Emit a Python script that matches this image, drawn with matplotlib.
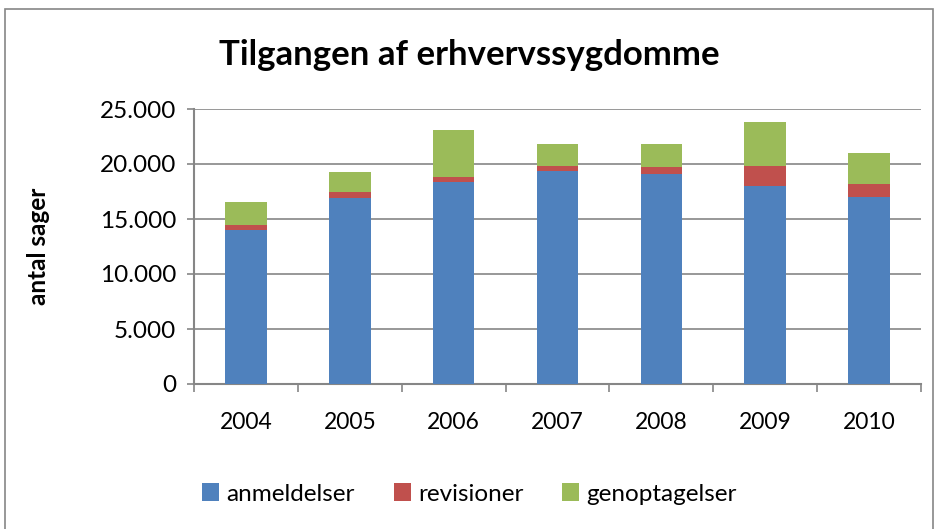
import numpy as np
import matplotlib.pyplot as plt
from matplotlib.ticker import FuncFormatter, FixedLocator
from matplotlib.patches import Rectangle

years = ["2004", "2005", "2006", "2007", "2008", "2009", "2010"]
anmeldelser = [13990, 16950, 18350, 19400, 19050, 17980, 16980]
revisioner = [500, 490, 480, 450, 720, 1870, 1240]
genoptagelser = [2100, 1860, 4240, 1970, 2040, 3950, 2760]

plt.rcParams['font.family'] = ['Lato', 'DejaVu Sans']

fig = plt.figure(figsize=(9.39, 5.29), dpi=100)
ax = fig.add_axes([194 / 939, 1 - 384 / 529, 727 / 939, 275 / 529])

x = np.arange(len(years))
w = 0.4
b1 = np.array(anmeldelser)
b2 = b1 + np.array(revisioner)
ax.bar(x, anmeldelser, w, color='#4F81BD', label='anmeldelser', zorder=3)
ax.bar(x, revisioner, w, bottom=b1, color='#C0504D', label='revisioner', zorder=3)
ax.bar(x, genoptagelser, w, bottom=b2, color='#9BBB59', label='genoptagelser', zorder=3)

ax.set_xlim(-0.5, len(years) - 0.5)
ax.set_ylim(0, 25000)
ax.set_yticks(np.arange(0, 25001, 5000))
ax.yaxis.set_major_formatter(FuncFormatter(lambda v, p: f"{int(v):,}".replace(",", ".")))
ax.grid(axis='y', color='#868686', linewidth=1.2, zorder=0)

ax.set_xticks(x)
ax.set_xticklabels(years)
ax.xaxis.set_minor_locator(FixedLocator(np.arange(-0.5, len(years), 1.0)))
ax.tick_params(axis='x', which='major', length=0, pad=20, labelsize=16.5)
ax.tick_params(axis='x', which='minor', length=6, width=1.2, color='#868686', direction='out')
ax.tick_params(axis='y', length=5, width=1.2, color='#868686', labelsize=17.5, pad=8)

for s in ['top', 'right']:
    ax.spines[s].set_visible(False)
for s in ['left', 'bottom']:
    ax.spines[s].set_color('#868686')
    ax.spines[s].set_linewidth(1.5)

ax.set_ylabel("antal sager", fontsize=17.5, fontweight='bold', labelpad=36)
fig.text(0.5, 1 - 55 / 529, "Tilgangen af erhvervssygdomme", ha='center', va='center',
         fontsize=25, fontweight='bold')

fig.legend(loc='center', bbox_to_anchor=(0.5, 1 - 494 / 529), ncol=3, frameon=False,
           fontsize=17.5, handlelength=0.7, handleheight=0.7, handletextpad=0.3,
           columnspacing=1.6)

fig.patches.append(Rectangle((5 / 939, -0.1), 928 / 939, 1.1 - 9 / 529, transform=fig.transFigure,
                             fill=False, edgecolor='#868686', linewidth=1.2))

fig.savefig("out.png", dpi=100)
